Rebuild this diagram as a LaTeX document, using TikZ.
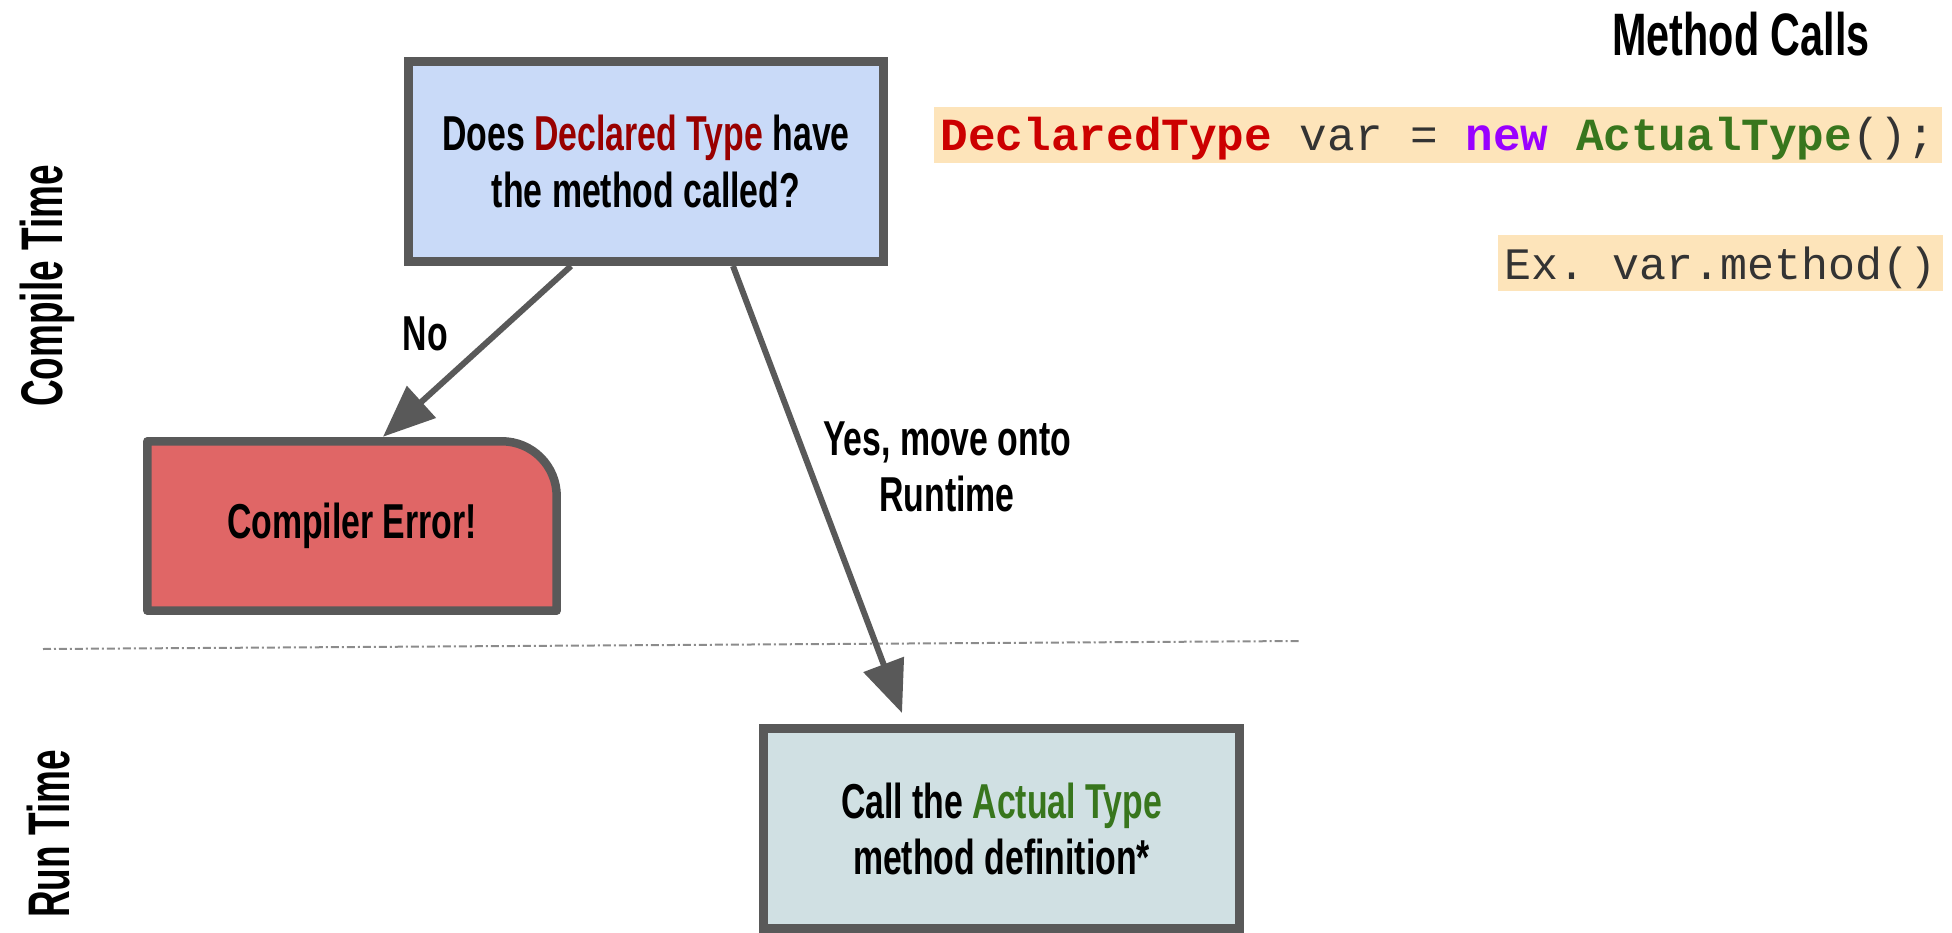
\documentclass[tikz,border=0pt]{standalone}
\usepackage{fontspec}
\setmainfont{Liberation Sans}
\setmonofont{Liberation Mono}
\newfontfamily\slidefont[FakeStretch=0.69]{Liberation Sans}
\newfontfamily\sidefont[FakeStretch=0.63]{Liberation Sans}
\usepackage{xcolor}
\usepackage{tikz}
\usetikzlibrary{arrows.meta, positioning, backgrounds}

\definecolor{boxline}{HTML}{595959}
\definecolor{askblue}{HTML}{C9DAF8}
\definecolor{errred}{HTML}{E06666}
\definecolor{runblue}{HTML}{D0E0E3}
\definecolor{hilite}{HTML}{FDE4BA}
\definecolor{declred}{HTML}{990000}
\definecolor{actgreen}{HTML}{38761D}
\definecolor{codered}{HTML}{CC0000}
\definecolor{codepurple}{HTML}{9900FF}
\definecolor{codegrey}{HTML}{333333}

\begin{document}
\begin{tikzpicture}[
    x=0.02cm, y=-0.02cm,
    slide/.style={font=\slidefont\bfseries\fontsize{27.9}{31.9}\selectfont},
    decision/.style={slide, rectangle, draw=boxline, line width=0.17cm, fill=askblue, minimum width=9.51cm, minimum height=4.01cm, align=center},
    outcome/.style={slide, rectangle, draw=boxline, line width=0.17cm, fill=runblue, minimum width=9.53cm, minimum height=4.01cm, align=center},
    errbox/.style={slide, rectangle, outer sep=0pt, minimum width=8.19cm, minimum height=3.39cm, align=center},
    errshape/.style={draw=boxline, line width=0.17cm, fill=errred, line join=round},
    side/.style={font=\sidefont\bfseries\fontsize{33.4}{38}\selectfont, rotate=90, anchor=base},
    code/.style={font=\ttfamily, fill=hilite, inner xsep=0.13cm, inner ysep=0pt, anchor=base east, text=codegrey},
    lbl/.style={slide, inner sep=0pt, align=center, text=black},
    arrow/.style={-{Triangle[length=1.04cm, width=0.84cm]}, line width=0.12cm, color=boxline},
]
\useasboundingbox (0,0) rectangle (1952,933);

% side captions and title
\node[side] (ct) at (62,286) {Compile Time};
\node[side] (rt) at (70,834) {Run Time};
\node[slide, anchor=base, font=\slidefont\bfseries\fontsize{34.1}{40}\selectfont] (title) at (1741,55) {Method Calls};

% code snippets
\node[code, font=\ttfamily\fontsize{26.2}{30}\selectfont, text height=0.86cm, text depth=0.26cm] (decl) at (1942,150)
    {{\bfseries\color{codered}DeclaredType} var = {\bfseries\color{codepurple}new} {\bfseries\color{actgreen}ActualType}();};
\node[code, font=\ttfamily\fontsize{25.6}{30}\selectfont, text height=0.88cm, text depth=0.24cm] (ex) at (1943,279)
    {Ex. var.method()};

% flow boxes
\node[decision] (ask) at (646,161.5) {Does {\color{declred}Declared Type} have\\the method called?};
\node[errbox] (err) at (352,526) {Compiler Error!};
\node[outcome] (run) at (1001.5,828.5) {Call the {\color{actgreen}Actual Type}\\method definition*};

\begin{scope}[on background layer]
\draw[errshape] (err.south west) -- (err.north west) -- ([xshift=-1.1cm]err.north east)
    arc[start angle=90, end angle=0, radius=1.1cm] -- (err.south east) -- cycle;
\end{scope}

% compile time / run time divider
\draw[color=black!45, line width=0.04cm, dash pattern=on 0.16cm off 0.06cm on 0.04cm off 0.06cm] (43,649) -- (1301,641);

\draw[arrow] ([xshift=-1.5cm]ask.south) -- ([xshift=0.62cm, yshift=0.09cm]err.north)
    node[lbl, pos=0.4, left=0.9cm] {No};
\draw[arrow] ([xshift=1.74cm]ask.south) -- ([xshift=-1.99cm, yshift=0.22cm]run.north)
    node[lbl, pos=0.45, right=0.22cm] {Yes, move onto\\Runtime};

\end{tikzpicture}
\end{document}
